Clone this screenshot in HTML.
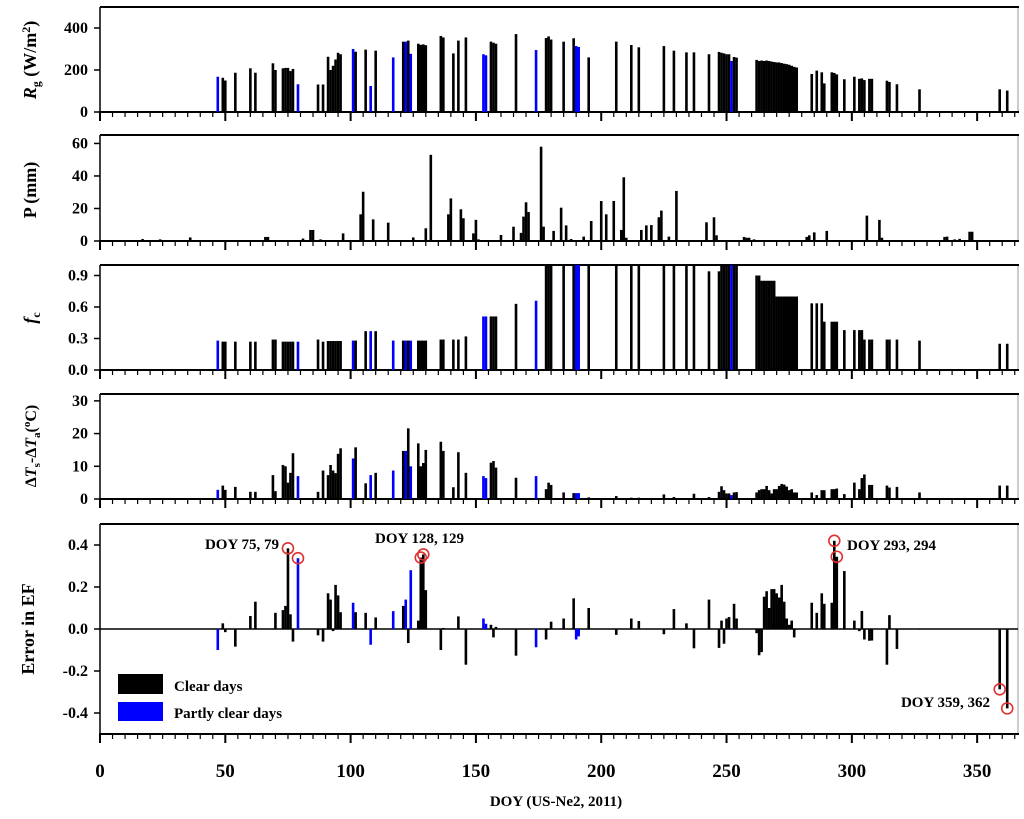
<!DOCTYPE html>
<html><head><meta charset="utf-8"><style>
body{margin:0;background:#fff;}
svg{display:block;font-family:"Liberation Serif",serif;font-weight:bold;}
</style></head><body>
<svg id="chart" width="1024" height="819" viewBox="0 0 1024 819" xmlns="http://www.w3.org/2000/svg"></svg>
<script>
const days=[47,49,50,54,60,62,69,70,73,74,75,76,77,79,87,89,91,92,93,94,95,96,101,102,106,108,110,117,121,122,123,124,127,128,129,130,136,137,141,143,146,153,154,156,157,158,166,174,178,179,180,185,189,190,191,195,206,212,215,225,229,234,237,243,247,248,249,250,251,252,253,254,262,263,264,265,266,267,268,269,270,271,272,273,274,275,276,277,278,284,286,288,289,292,293,294,297,301,303,304,305,307,308,314,315,318,327,359,362];
const partlyDays=[47,79,101,108,117,122,124,153,154,174,190,191,252];
const rgVals=[168,163,150,187,208,187,232,200,208,210,210,195,205,132,131,131,263,200,220,250,282,275,300,287,297,124,292,260,335,335,340,277,325,320,322,318,362,355,279,340,355,275,270,335,330,325,371,295,352,360,345,335,351,314,310,260,335,319,308,314,292,284,284,275,286,282,279,275,275,243,262,259,248,243,245,243,245,243,240,238,236,236,233,230,228,225,220,215,212,181,197,189,136,189,186,179,156,168,158,160,152,158,158,149,143,132,108,108,102];
const fcVals=[.28,.27,.27,.27,.27,.27,.29,.29,.27,.27,.27,.27,.27,.27,.29,.27,.276,.276,.276,.276,.276,.276,.28,.28,.37,.37,.37,.28,.28,.28,.28,.28,.28,.28,.28,.28,.29,.29,.29,.29,.32,.51,.51,.51,.51,.51,.63,.66,1,1,1,1,1,1,1,1,1,1,1,1,1,1,1,.94,.94,1,1,1,1,1,1,1,.9,.9,.85,.85,.85,.85,.85,.85,.7,.7,.7,.7,.7,.7,.7,.7,.7,.635,.635,.635,.46,.46,.46,.46,.38,.38,.38,.38,.29,.29,.29,.29,.29,.29,.28,.25,.25];
const dtVals=[2.8,4.1,2.8,3.7,2.2,2.2,7.3,2.4,10.4,10,5,8,14,7,2.2,8.7,7.3,10.4,8.7,7.9,13.8,15.5,12.4,15.8,4.8,7.3,8,8.7,14.7,14.7,21.6,10,17,10,11,15,17.5,14.7,3.6,14.3,8,7,6.4,11.1,11.6,9.6,6.5,7,3,5,4.3,2,1.8,1.8,1.8,0.5,0.9,0.4,0.4,1.4,0.6,0.3,1.6,0.6,2.2,3.9,2.7,1.7,1.7,1.2,2,2.1,2,2.7,3,3,4,2.7,1.7,3,3,4,4.6,4.4,3.8,2.7,3,2,2,2,1.2,2.7,2.7,3,3,3.2,1.5,5,3,6.4,7.5,4.3,4.3,4.1,3.5,3.7,2,4.1,4.1];
const efVals=[-0.10,0.027,-0.015,-0.084,0.062,0.13,0,0.077,0.09,0.11,0.384,0.07,-0.06,0.337,-0.03,-0.06,0.17,0.14,-0.01,0.21,0.16,0.08,0.125,0.08,0.077,-0.075,0.055,0.085,0.11,0.14,-0.067,0.28,0.04,0.34,0.355,0.185,-0.1,0.005,0,0.06,-0.17,0.05,0.025,0.02,-0.04,0.01,-0.127,-0.087,-0.05,0,0.035,0.05,0.146,-0.05,-0.035,0.1,-0.028,0.05,0.038,-0.025,0.095,0.027,-0.092,0.14,-0.09,0.04,-0.07,0.05,0.057,0,0.12,0.05,-0.02,-0.125,-0.11,0.154,0.18,0.1,0.19,0.19,0.17,0.15,0.21,0.13,0.05,0.02,0.04,-0.04,0,0.125,0.077,0.17,0.12,0.125,0.42,0.344,0.276,0.04,-0.01,0.086,-0.05,-0.056,-0.055,-0.17,0.066,-0.095,0,-0.287,-0.378];
const pDays=[17,24,36,42,66,67,81,84,85,88,97,104,105,109,115,125,130,132,139,140,144,145,149,150,151,160,165,168,169,170,171,176,177,181,184,186,188,193,196,200,202,205,208,209,210,216,218,220,223,224,227,230,242,245,246,257,258,259,261,282,283,285,290,306,311,312,337,338,341,343,347,348];
const pVals=[1.2,1,2.2,0.6,2.5,2.5,1.5,6.8,6.8,1,4.7,16.4,30.3,13.3,11.3,2.2,7.8,53,16.4,26.2,19.5,14,4.7,13,1,3.7,8.8,5,15,23.8,17.8,58,8.8,6.2,20.5,9.6,1.2,2.7,12.3,24.6,16.4,24.6,6.8,39.2,2,6.8,9.6,9.8,14.6,18.7,2.7,30.8,11.5,14.6,3.5,2.5,2,2,1,2.5,3.5,5.3,6.2,15.6,13,2,2.5,2.7,1,1.3,5.7,5.7];
const xTicks=[0,50,100,150,200,250,300,350];
const rgTicks=[0,200,400], pTicks=[0,20,40,60], fcTicks=[0,0.3,0.6,0.9], dtTicks=[0,10,20,30], efTicks=[0.4,0.2,0,-0.2,-0.4];
const fcLabels=["0.0","0.3","0.6","0.9"], efLabels=["0.4","0.2","0.0","-0.2","-0.4"];
const highlight=[75,79,128,129,293,294,359,362];

const NS="http://www.w3.org/2000/svg";
const svg=document.getElementById('chart');
const L=100,R=1018,D0=0,D1=366.3;
const xs=d=>L+(d-D0)/(D1-D0)*(R-L);
function mk(tag,attrs,parent){const e=document.createElementNS(NS,tag);for(const k in attrs)e.setAttribute(k,attrs[k]);(parent||svg).appendChild(e);return e;}
const panels=[
 {name:'rg',top:7,bot:112,zero:112,min:0,max:500,ticks:rgTicks,labels:rgTicks.map(String)},
 {name:'precip',top:135,bot:241,zero:241,min:0,max:65.2,ticks:pTicks,labels:pTicks.map(String)},
 {name:'fc',top:265,bot:370,zero:370,min:0,max:1,ticks:fcTicks,labels:fcLabels},
 {name:'dt',top:394,bot:499,zero:499,min:0,max:32.1,ticks:dtTicks,labels:dtTicks.map(String)},
 {name:'ef',top:524,bot:734,zero:629,min:-0.5,max:0.5,ticks:efTicks,labels:efLabels}
];
panels.forEach(p=>{p.y=v=>p.bot-(v-p.min)/(p.max-p.min)*(p.bot-p.top);});
function drawFrame(p){
 const g=mk('g',{});
 
 
 mk('line',{x1:R,y1:p.top,x2:R,y2:p.bot,stroke:'#999','stroke-width':1},g);
 mk('line',{x1:L,y1:p.top,x2:R+1,y2:p.top,stroke:'#000','stroke-width':2},g);
 mk('line',{x1:L,y1:p.top,x2:L,y2:p.bot,stroke:'#000','stroke-width':1.5},g);
 const b=mk('line',{x1:L-1,y1:p.bot,x2:R+1,y2:p.bot,stroke:'#000','stroke-width':2},g);
 
 
 if(p.zero!==p.bot){const z=mk('line',{x1:L,y1:p.zero,x2:R,y2:p.zero,stroke:'#000','stroke-width':1.5},g);
  
  }
 for(let d=0;d<=365;d+=5){const maj=d%50===0;
  mk('line',{x1:xs(d),y1:p.bot,x2:xs(d),y2:p.bot+(maj?9:5),stroke:'#000','stroke-width':maj?2:1.2},g);}
 p.ticks.forEach((v,i)=>{const yy=p.y(v);
  mk('line',{x1:L-6,y1:yy,x2:L,y2:yy,stroke:'#000','stroke-width':1.5},g);
  const tx=mk('text',{x:L-12,y:yy+5,'text-anchor':'end','font-size':16},g);
  tx.textContent=p.labels[i];
  
  });
}
panels.forEach(drawFrame);
const BW=2.6;
function bars(p,ds,vs,colorFn){
 const g=mk('g',{});
 
 
 ds.forEach((d,i)=>{let v=Math.max(p.min,Math.min(p.max,vs[i]));
  const y0=p.y(p.name==='ef'?0:p.min), y1=p.y(v);
  const r=mk('rect',{x:xs(d)-BW/2,y:Math.min(y0,y1),width:BW,height:Math.max(Math.abs(y0-y1),0.6),fill:colorFn(d)},g);
  
  });
}
const col=d=>partlyDays.includes(d)?'#0000ff':'#000';
bars(panels[0],days,rgVals,col);
bars(panels[1],pDays,pVals,()=>'#000');
bars(panels[2],days,fcVals,col);
bars(panels[3],days,dtVals,col);
bars(panels[4],days,efVals,col);
highlight.forEach(d=>{const i=days.indexOf(d);const p=panels[4];
 const c=mk('circle',{cx:xs(d),cy:p.y(efVals[i]),r:5.5,fill:'none',stroke:'#e03030','stroke-width':1.6});
 
 });
function txt(s,x,y,size,anchor,name,extra){const t=mk('text',Object.assign({x:x,y:y,'font-size':size,'text-anchor':anchor||'start'},extra||{}));t.textContent=s;
 
 return t;}
txt('DOY 75, 79',279,549,15,'end','annotation-doy-75-79');
txt('DOY 128, 129',375,543,15,'start','annotation-doy-128-129');
txt('DOY 293, 294',847,550,15,'start','annotation-doy-293-294');
txt('DOY 359, 362',990,707,15,'end','annotation-doy-359-362');
xTicks.forEach(d=>{txt(String(d),xs(d),777,19,'middle','x-tick-label');});
txt('DOY (US-Ne2, 2011)',556,806,15,'middle','x-axis-title');
const lg=mk('g',{});


const r1=mk('rect',{x:118,y:674,width:45,height:20,fill:'#000'},lg);


const r2=mk('rect',{x:118,y:702,width:45,height:19,fill:'#0000ff'},lg);


txt('Clear days',174,691,15,'start','legend-entry-clear');
txt('Partly clear days',174,718,15,'start','legend-entry-partly');
function ytitle(html,x,y,name){const t=mk('text',{x:0,y:0,'font-size':18,'text-anchor':'middle',transform:`translate(${x},${y}) rotate(-90)`});t.innerHTML=html;
 
 }
ytitle('<tspan font-style="italic">R</tspan><tspan font-size="12" dy="4">g</tspan><tspan dy="-4"> (W/m</tspan><tspan font-size="12" dy="-6">2</tspan><tspan dy="6">)</tspan>',36,60,'rg-y-axis-title');
ytitle('P (mm)',36,190,'precip-y-axis-title');
ytitle('<tspan font-style="italic">f</tspan><tspan font-size="12" dy="4">c</tspan>',36,318,'fc-y-axis-title');
ytitle('<tspan font-size="16">Δ<tspan font-style="italic">T</tspan><tspan font-size="11" dy="4">s</tspan><tspan dy="-4">-Δ</tspan><tspan font-style="italic">T</tspan><tspan font-size="11" dy="4">a</tspan><tspan dy="-4">(</tspan><tspan font-size="11" dy="-6">o</tspan><tspan dy="6">C)</tspan></tspan>',36,446,'dt-y-axis-title');
ytitle('Error in EF',34,629,'ef-y-axis-title');
</script>
</body></html>
